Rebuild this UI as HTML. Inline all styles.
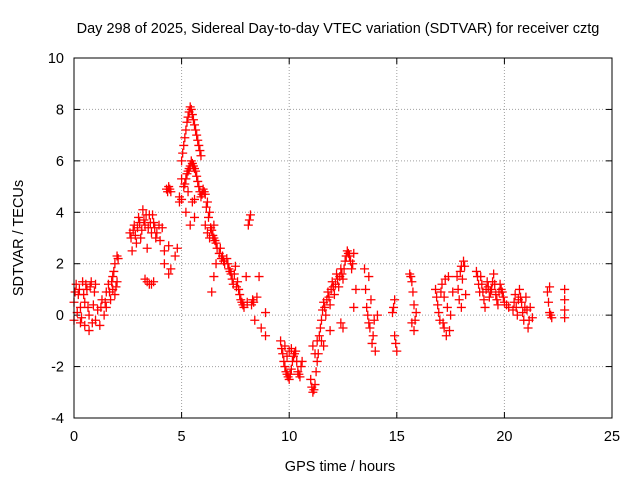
<!DOCTYPE html>
<html><head><meta charset="utf-8"><style>
body{margin:0;background:#fff}
svg{display:block;font-family:"Liberation Sans",sans-serif}
</style></head><body>
<svg id="chart" width="640" height="480">
<text x="338" y="33" text-anchor="middle" font-size="14.5">Day 298 of 2025, Sidereal Day-to-day VTEC variation (SDTVAR) for receiver cztg</text>
<text x="340" y="471" text-anchor="middle" font-size="14.5">GPS time / hours</text>
<text transform="translate(23,238) rotate(-90)" text-anchor="middle" font-size="14.5">SDTVAR / TECUs</text>
<g id="grid"></g><g id="ticks"></g><g id="pts"></g>
<rect x="74" y="58" width="538" height="360" fill="none" stroke="#000" stroke-width="1"/>
</svg>
<script>
const xTicks=[0,5,10,15,20,25];
const yTicks=[-4,-2,0,2,4,6,8,10];
const hours=[0,0,0.1,0.2,0.3,0.3,0.4,0.5,0.5,0.6,0.7,0.7,0.8,0.9,1.0,1.0,
1.1,1.2,1.3,1.4,1.5,1.5,1.6,1.7,1.8,1.8,1.9,2.0,2.0,1.9,
2.6,2.7,2.8,2.9,3.0,3.1,3.2,3.3,3.4,3.5,3.6,3.7,3.3,3.5,3.7,3.8,4.0,4.1,4.2,4.2,
4.3,4.4,4.5,4.4,4.5,4.4,4.7,4.8,4.9,
5.0,5.1,5.2,5.3,5.4,5.5,5.6,5.7,5.8,5.9,5.0,5.1,5.2,5.3,5.4,5.5,5.6,5.7,5.8,5.9,5.2,5.4,5.5,5.6,
6.0,6.1,6.2,6.3,6.1,6.2,6.4,6.5,6.6,6.5,6.4,6.6,6.8,6.9,7.0,
7.1,7.2,7.3,7.4,7.5,7.6,7.7,7.8,7.9,8.0,8.1,8.2,8.3,8.4,8.5,8.6,8.7,8.9,8.9,
9.6,9.7,9.8,9.9,10.0,10.1,10.2,10.3,10.4,10.5,10.6,10.0,9.8,
11.0,11.1,11.2,11.3,11.1,11.4,11.5,11.6,11.7,11.8,11.9,12.0,12.1,12.2,12.3,12.4,12.5,12.6,12.7,12.8,12.9,13.0,13.1,13.0,12.4,12.5,11.6,11.9,
13.5,13.6,13.7,13.8,13.9,14.0,14.1,13.7,
14.8,14.9,15.0,14.9,
15.6,15.7,15.8,15.8,15.9,15.7,
16.8,16.9,17.0,17.1,17.2,17.3,17.4,17.5,17.2,17.6,
17.8,17.9,18.0,18.1,18.2,18.0,
18.7,18.8,18.9,19.0,19.1,19.2,19.3,19.4,19.5,19.6,19.7,19.8,19.9,20.0,20.2,
20.4,20.5,20.6,20.7,20.8,20.9,21.0,21.1,21.2,21.3,
22.0,22.1,22.2,22.1,22.8,22.8,22.8,22.8,
0.05,0.15,0.25,0.35,0.45,0.55,0.65,0.75,0.85,0.95,1.25,1.45,1.65,1.75,1.85,1.95,2.05,
2.65,2.75,2.85,2.95,3.05,3.15,3.25,3.35,3.45,3.55,3.65,3.75,3.85,3.95,3.4,3.6,
4.35,4.45,4.9,5.0,
5.05,5.15,5.25,5.35,5.45,5.55,5.65,5.75,5.85,5.15,5.25,5.35,5.45,5.55,5.65,5.75,5.85,5.95,5.3,5.6,
6.05,6.15,6.25,6.35,6.45,6.55,6.65,6.75,6.85,6.95,6.3,6.5,
7.15,7.25,7.35,7.45,7.55,7.65,7.75,7.85,8.05,8.15,8.25,8.35,
9.65,9.75,9.85,9.95,10.05,10.15,10.25,10.35,10.45,10.55,9.9,10.1,
11.05,11.15,11.25,11.35,11.45,11.55,11.65,11.75,11.85,11.95,12.05,12.15,12.25,12.35,12.45,12.55,12.65,12.75,12.85,12.95,11.2,11.3,11.5,
13.55,13.65,13.75,13.85,13.95,14.95,14.85,
15.65,15.75,15.85,16.85,16.95,17.05,17.15,17.25,17.35,17.45,17.85,17.95,18.05,18.15,
18.75,18.85,18.95,19.05,19.15,19.25,19.35,19.45,19.55,19.65,19.75,19.85,19.95,20.1,20.45,20.55,20.65,20.75,20.85,20.95,21.05,21.15,
22.05,22.15];
const sdtvar=[0.5,-0.2,1.2,0.8,0.3,-0.3,1.3,0.5,-0.4,1.0,0.0,-0.6,1.3,0.4,-0.2,1.2,
0.2,-0.4,0.6,0.0,0.9,0.3,1.2,0.6,1.5,1.0,2.0,2.3,1.3,0.8,
3.2,2.5,3.5,2.8,3.8,3.0,4.1,3.5,2.6,3.9,3.2,3.6,1.4,1.2,1.3,3.0,2.9,3.4,2.5,2.0,
4.9,5.0,4.8,2.7,1.8,1.6,2.3,2.6,4.4,
6.0,6.6,7.2,7.7,8.1,7.8,7.4,7.0,6.6,6.2,4.5,5.0,5.3,5.6,5.8,5.9,5.7,5.4,5.0,4.6,4.0,3.5,4.4,3.8,
4.9,4.7,4.4,4.0,3.5,3.2,3.3,3.0,2.8,1.5,0.9,2.0,2.6,2.3,2.0,
2.2,1.8,1.6,1.2,1.9,1.3,0.8,0.5,0.3,1.5,3.5,3.9,0.6,-0.2,0.7,1.5,-0.5,-0.8,0.1,
-1.0,-1.5,-2.0,-2.3,-2.5,-2.1,-1.6,-1.4,-2.2,-2.4,-1.8,-1.4,-1.2,
-2.5,-3.0,-2.7,-1.8,-1.2,-0.8,-0.2,0.5,0.0,0.9,0.4,1.3,0.8,1.6,1.1,1.8,1.4,2.1,2.5,2.3,1.8,2.4,1.0,0.3,-0.3,-0.5,-1.2,-0.6,
1.8,0.3,-0.3,0.6,-0.8,-1.4,0.0,1.5,
0.1,-0.8,-1.4,0.6,
1.6,1.3,0.4,-0.6,0.1,-0.3,
1.0,0.4,-0.2,1.2,0.7,-0.8,1.5,0.0,-0.5,0.9,
1.5,0.6,1.9,2.1,0.8,0.3,
1.7,1.2,1.5,0.9,0.3,1.3,0.7,1.0,1.6,0.8,0.4,1.2,0.9,0.5,0.3,
0.2,0.8,0.0,1.0,0.5,-0.2,0.7,-0.5,0.3,-0.1,
0.9,0.1,-0.1,1.1,1.0,0.6,0.2,-0.1,
0.9,0.1,1.0,-0.1,0.8,1.2,0.3,1.1,-0.3,0.9,0.3,0.5,0.9,1.3,1.7,1.1,2.2,
3.0,3.3,3.1,3.4,3.6,3.3,3.7,3.9,3.4,3.6,3.9,3.4,3.2,3.5,1.3,1.2,
4.8,4.9,4.6,5.3,
6.3,6.9,7.5,7.9,8.0,7.6,7.2,6.8,6.4,5.1,5.5,5.7,6.0,5.8,5.6,5.2,4.8,4.7,4.8,4.5,
4.8,4.2,3.8,3.4,3.1,2.9,2.6,2.4,2.2,2.1,3.0,3.5,
2.0,1.7,1.4,1.6,1.1,1.0,0.6,0.4,0.5,3.7,0.4,0.5,
-1.3,-1.8,-2.2,-2.4,-2.3,-1.8,-1.5,-1.8,-2.3,-2.0,-1.6,-1.3,
-2.8,-2.9,-2.2,-1.5,-0.5,0.2,0.3,0.6,0.7,1.0,1.1,1.2,1.4,1.5,1.6,1.8,2.3,2.4,2.1,2.0,-1.5,-1.0,-1.0,
1.0,0.0,-0.5,-1.1,-0.2,-1.1,0.3,
1.5,0.9,-0.2,0.7,0.1,0.9,-0.3,1.4,0.3,-0.6,1.0,1.7,1.4,1.9,
1.5,0.9,1.2,0.6,1.0,1.1,0.9,1.3,1.2,0.6,0.9,1.0,0.7,0.4,0.5,0.3,0.6,0.7,0.1,0.3,0.2,-0.2,
0.5,0.0];
const L=74,R=612,T=58,B=418;
const xs=v=>L+(v-0)/25*(R-L);
const ys=v=>B-(v+4)/14*(B-T);
const NS='http://www.w3.org/2000/svg';
const grid=document.getElementById('grid'),ticks=document.getElementById('ticks'),pts=document.getElementById('pts');
function mk(tag,attrs,parent){const e=document.createElementNS(NS,tag);for(const k in attrs)e.setAttribute(k,attrs[k]);parent.appendChild(e);return e;}
xTicks.forEach(t=>{const x=xs(t);
 if(t>0&&t<25){const g=mk('line',{x1:x,x2:x,y1:T,y2:B,stroke:'#a0a0a0','stroke-dasharray':'1,2'},grid);
 
 }
 mk('line',{x1:x,x2:x,y1:B,y2:B-6,stroke:'#000'},ticks);mk('line',{x1:x,x2:x,y1:T,y2:T+6,stroke:'#000'},ticks);
 const tx=mk('text',{x:x,y:B+23,'text-anchor':'middle','font-size':'14.5'},ticks);tx.textContent=t;
 
 });
yTicks.forEach(t=>{const y=ys(t);
 if(t>-4&&t<10){const g=mk('line',{x1:L,x2:R,y1:y,y2:y,stroke:'#a0a0a0','stroke-dasharray':'1,2'},grid);
 
 }
 mk('line',{x1:L,x2:L+6,y1:y,y2:y,stroke:'#000'},ticks);mk('line',{x1:R,x2:R-6,y1:y,y2:y,stroke:'#000'},ticks);
 const tx=mk('text',{x:L-10,y:y+5,'text-anchor':'end','font-size':'14.5'},ticks);tx.textContent=t;
 
 });
hours.forEach((h,i)=>{const x=xs(h),y=ys(sdtvar[i]);
 const p=mk('path',{d:`M${x-4.5},${y}H${x+4.5}M${x},${y-4.5}V${y+4.5}`,stroke:'#f00','stroke-width':1.3,fill:'none'},pts);
 
 });
</script>
</body></html>
